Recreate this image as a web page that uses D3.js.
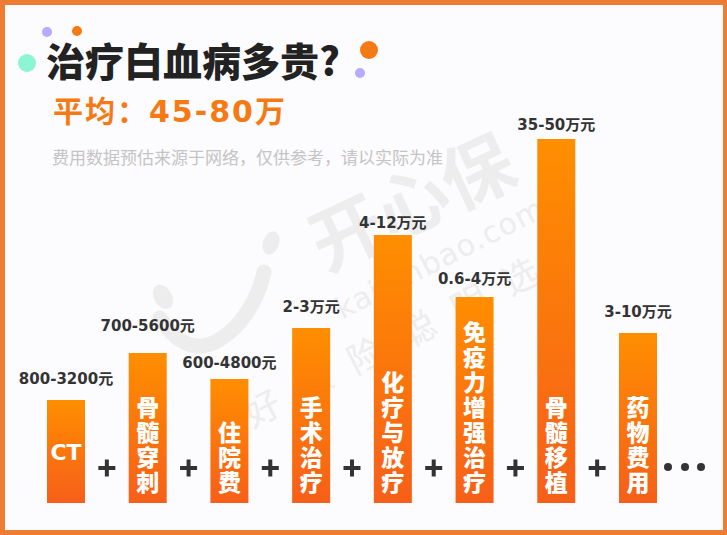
<!DOCTYPE html>
<html><head><meta charset="utf-8">
<script src="https://cdn.jsdelivr.net/npm/d3@7"></script>
<style>html,body{margin:0;padding:0;background:#fff;}svg{display:block;}</style>
</head><body>
<svg id="chart" width="727" height="535"></svg>
<script>
// ---- data ----
const categories = ["CT", "骨髓穿刺", "住院费", "手术治疗", "化疗与放疗", "免疫力增强治疗", "骨髓移植", "药物费用"];
const priceLabels = ["800-3200元", "700-5600元", "600-4800元", "2-3万元", "4-12万元", "0.6-4万元", "35-50万元", "3-10万元"];
// relative bar heights as drawn in the infographic (not to scale of cost)
const relativeHeights = [103, 150, 124, 175, 268, 206, 364, 170];
const titleText = "治疗白血病多贵?";
const subtitleText = "平均：45-80万";
const noteText = "费用数据预估来源于网络，仅供参考，请以实际为准";

// ---- layout / style ----
const W = 727, H = 535;
const labelGap = [21, 27, 16, 21, 12, 18, 14, 21];
const svg = d3.select("#chart");

svg.append("rect").attr("width", W).attr("height", H).attr("fill", "#EE7C33");
svg.append("rect").attr("x", 5).attr("y", 5).attr("width", 718).attr("height", 525).attr("fill", "#FCFBFE");

// watermark
const wm = svg.append("g").attr("fill", "#EDEDED").attr("font-family", "'Noto Sans CJK SC', sans-serif");
wm.append("path").attr("d", "M 160 318 Q 195 372 240 322 Q 258 300 264 272")
  .attr("fill", "none").attr("stroke", "#EDEDED").attr("stroke-width", 15).attr("stroke-linecap", "round");
wm.append("ellipse").attr("cx", 163).attr("cy", 297).attr("rx", 9).attr("ry", 13).attr("transform", "rotate(-30,163,297)");
wm.append("ellipse").attr("cx", 271).attr("cy", 243).attr("rx", 8).attr("ry", 12).attr("transform", "rotate(20,271,243)");
wm.append("text").attr("x", 410).attr("y", 198).attr("text-anchor", "middle").attr("dominant-baseline", "central")
  .attr("font-size", 72).attr("font-weight", "bold").attr("transform", "rotate(-25,410,198)").text("开心保");
wm.append("text").attr("x", 440).attr("y", 258).attr("text-anchor", "middle").attr("dominant-baseline", "central")
  .attr("font-family", "'DejaVu Sans', sans-serif").attr("font-size", 30).attr("letter-spacing", 1)
  .attr("transform", "rotate(-27,440,258)").text("kaixinbao.com");
wm.append("text").attr("x", 400).attr("y", 335).attr("text-anchor", "middle").attr("dominant-baseline", "central")
  .attr("font-size", 36).attr("letter-spacing", 22)
  .attr("transform", "rotate(-27,400,335)").text("好保险聪明选");

// decorative dots
const dots = [[27, 63, 9, "#8CF5D3"], [47, 32, 5, "#B9A9FF"], [77, 31, 5, "#F57A14"], [369, 50, 9, "#F57A14"], [360, 73, 5, "#B9A9FF"]];
svg.append("g").selectAll("circle").data(dots).join("circle")
  .attr("cx", d => d[0]).attr("cy", d => d[1]).attr("r", d => d[2]).attr("fill", d => d[3]);

// titles
svg.append("text").attr("x", 46).attr("y", 76)
  .attr("font-family", "'Noto Sans CJK SC', sans-serif").attr("font-weight", 900).attr("font-size", 39)
  .attr("fill", "#222").text(titleText);
svg.append("text").attr("x", 53).attr("y", 122)
  .attr("font-family", "'DejaVu Sans', 'Noto Sans CJK SC', sans-serif").attr("font-weight", "bold").attr("font-size", 30)
  .attr("letter-spacing", 2).attr("fill", "#F57A14").text(subtitleText);
svg.append("text").attr("x", 52).attr("y", 164)
  .attr("font-family", "'Noto Sans CJK SC', sans-serif").attr("font-size", 17)
  .attr("fill", "#C4C4C4").text(noteText);

// scales
const x = d3.scaleBand().domain(categories).range([47, 657]).paddingInner(0.535).paddingOuter(0);
const y = d3.scaleLinear().domain([0, 400]).range([503, 103]);
const bw = x.bandwidth();

const defs = svg.append("defs");
const grad = defs.append("linearGradient").attr("id", "barGrad").attr("x1", 0).attr("y1", 0).attr("x2", 0).attr("y2", 1);
grad.append("stop").attr("offset", "0%").attr("stop-color", "#FF8E00");
grad.append("stop").attr("offset", "100%").attr("stop-color", "#F65F19");

const data = categories.map((c, i) => ({ c, v: relativeHeights[i], label: priceLabels[i], gap: labelGap[i] }));

svg.append("g").selectAll("rect").data(data).join("rect")
  .attr("x", d => x(d.c)).attr("y", d => y(d.v))
  .attr("width", bw).attr("height", d => y(0) - y(d.v))
  .attr("fill", "url(#barGrad)");

// value labels
svg.append("g").selectAll("text").data(data).join("text")
  .attr("x", d => x(d.c) + bw / 2).attr("y", d => y(d.v) - d.gap)
  .attr("dy", "0.36em").attr("text-anchor", "middle")
  .attr("font-family", "'DejaVu Sans', 'Noto Sans CJK SC', sans-serif").attr("font-weight", "bold").attr("font-size", 15)
  .attr("fill", "#333").text(d => d.label);

// in-bar category text
const inner = svg.append("g").attr("fill", "#fff").attr("font-weight", 900);
data.forEach(d => {
  const cx = x(d.c) + bw / 2;
  if (/^[A-Za-z]+$/.test(d.c)) {
    inner.append("text").attr("x", cx).attr("y", 452).attr("dy", "0.36em").attr("text-anchor", "middle")
      .attr("font-family", "'DejaVu Sans', sans-serif").attr("font-weight", "bold").attr("font-size", 22).text(d.c);
  } else {
    inner.append("text").attr("x", cx).attr("y", 496)
      .attr("writing-mode", "vertical-rl").attr("text-anchor", "end")
      .attr("letter-spacing", 2)
      .attr("font-family", "'Noto Sans CJK SC', sans-serif").attr("font-size", 23).text(d.c);
  }
});

// plus signs between bars
const plusG = svg.append("g").attr("fill", "#333");
categories.slice(0, -1).forEach((c, i) => {
  const px = (x(c) + bw + x(categories[i + 1])) / 2;
  const py = 468;
  plusG.append("rect").attr("x", px - 8.5).attr("y", py - 2).attr("width", 17).attr("height", 4);
  plusG.append("rect").attr("x", px - 2).attr("y", py - 8.5).attr("width", 4).attr("height", 17);
});

// ellipsis after last bar
const lastRight = x(categories[categories.length - 1]) + bw;
[11, 28, 44].forEach(o => {
  plusG.append("circle").attr("cx", lastRight + o).attr("cy", 467).attr("r", 4);
});
</script>
</body></html>
